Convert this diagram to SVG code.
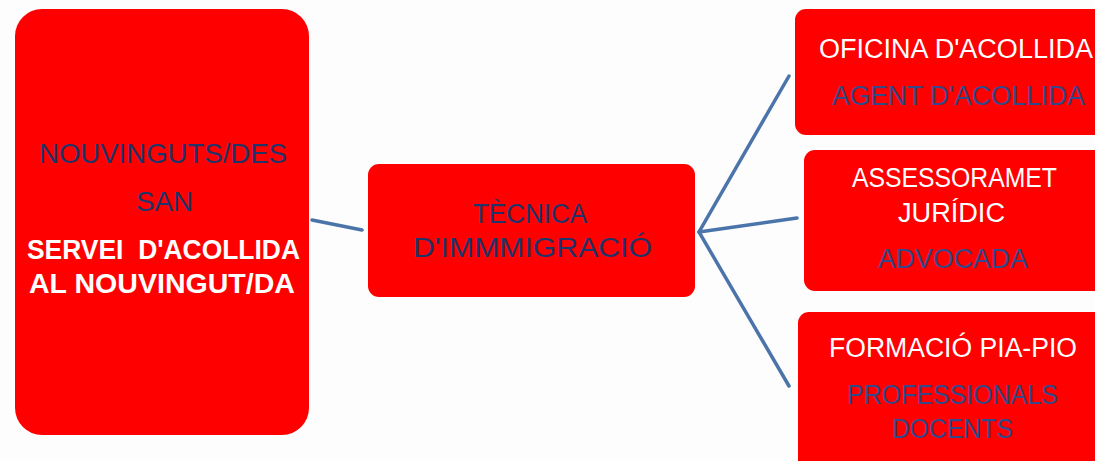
<svg xmlns="http://www.w3.org/2000/svg" width="1095" height="461" viewBox="0 0 1095 461">
<style>
.box{fill:#ff0000}
.t{font-family:"Liberation Sans",Arial,sans-serif;font-size:27px}
.dk{fill:#1f3468}
.sub{fill:#34498a}
.wh{fill:#ffffff}
.b{font-weight:bold}
.con{stroke:#4a74aa;stroke-width:3.5;fill:none;stroke-linecap:round}
</style>
<rect width="1095" height="461" fill="#fdfdfd"/>
<g id="connectors">
<line class="con" x1="312" y1="220" x2="362" y2="230"/>
<polyline class="con" points="789,76 699,232 789,386"/>
<line class="con" x1="699" y1="232" x2="797" y2="218"/>
</g>
<g id="node-nouvinguts">
<rect class="box" x="15" y="9" width="294" height="426" rx="27"/>
<text class="t dk" x="39" y="163" textLength="248" lengthAdjust="spacingAndGlyphs">NOUVINGUTS/DES</text>
<text class="t dk" x="136" y="211" textLength="57" lengthAdjust="spacingAndGlyphs">SAN</text>
<text class="t wh b" x="27" y="259" textLength="273" lengthAdjust="spacingAndGlyphs" xml:space="preserve">SERVEI  D'ACOLLIDA</text>
<text class="t wh b" x="29" y="293" textLength="266" lengthAdjust="spacingAndGlyphs">AL NOUVINGUT/DA</text>
</g>
<g id="node-tecnica">
<rect class="box" x="368" y="164" width="327" height="133" rx="11"/>
<text class="t dk" x="473" y="223" textLength="114" lengthAdjust="spacingAndGlyphs">TÈCNICA</text>
<text class="t dk" x="413" y="257" textLength="239" lengthAdjust="spacingAndGlyphs">D'IMMMIGRACIÓ</text>
</g>
<g id="node-oficina">
<rect class="box" x="795" y="9" width="320" height="126" rx="11"/>
<text class="t wh" x="819" y="58" textLength="274" lengthAdjust="spacingAndGlyphs">OFICINA D'ACOLLIDA</text>
<text class="t sub" x="832" y="105" textLength="253" lengthAdjust="spacingAndGlyphs">AGENT D'ACOLLIDA</text>
</g>
<g id="node-assessorament">
<rect class="box" x="804" y="150" width="311" height="141" rx="11"/>
<text class="t wh" x="852" y="187" textLength="205" lengthAdjust="spacingAndGlyphs">ASSESSORAMET</text>
<text class="t wh" x="898" y="222" textLength="107" lengthAdjust="spacingAndGlyphs">JURÍDIC</text>
<text class="t sub" x="878" y="268" textLength="150" lengthAdjust="spacingAndGlyphs">ADVOCADA</text>
</g>
<g id="node-formacio">
<rect class="box" x="798" y="312" width="317" height="170" rx="11"/>
<text class="t wh" x="829" y="357" textLength="248" lengthAdjust="spacingAndGlyphs">FORMACIÓ PIA-PIO</text>
<text class="t sub" x="847" y="404" textLength="211" lengthAdjust="spacingAndGlyphs">PROFESSIONALS</text>
<text class="t sub" x="892" y="438" textLength="121" lengthAdjust="spacingAndGlyphs">DOCENTS</text>
</g>
</svg>
